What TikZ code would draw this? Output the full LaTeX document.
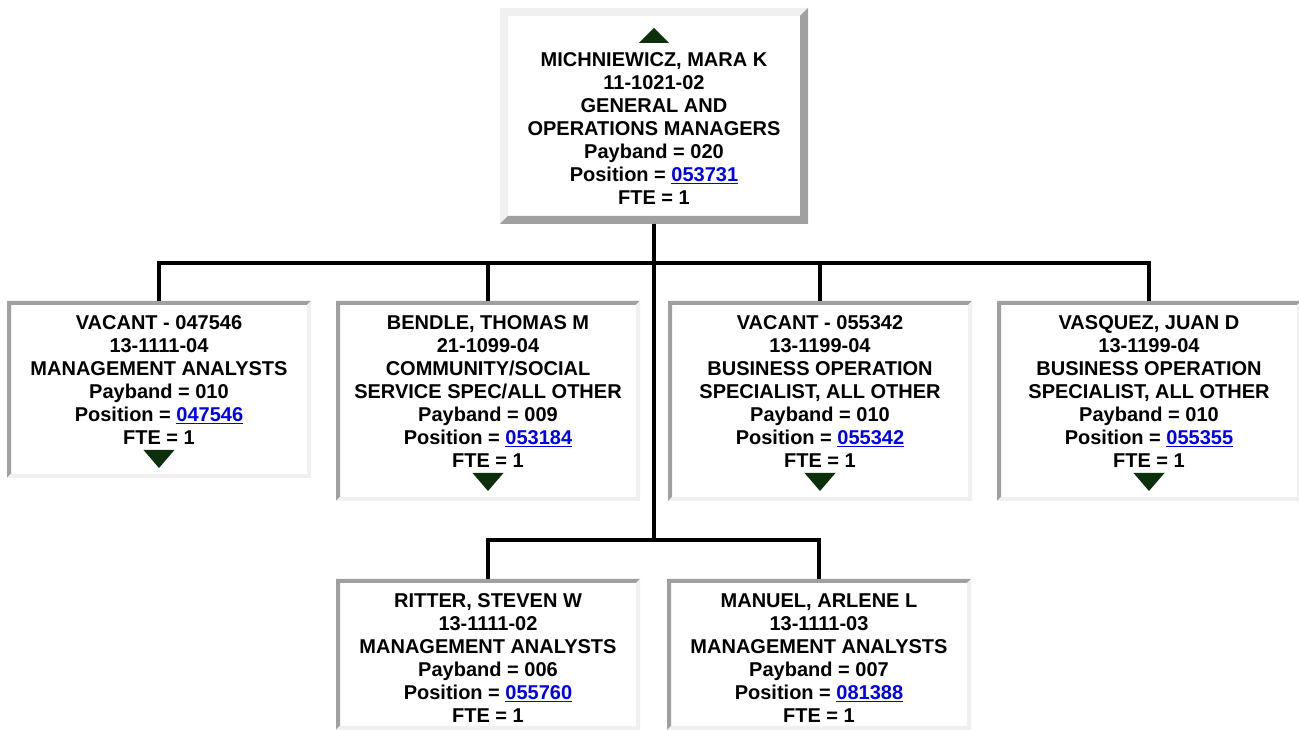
\documentclass[tikz,border=0pt]{standalone}
\usepackage{fontspec}
\setmainfont{Liberation Sans}

\definecolor{edgedark}{HTML}{A0A0A0}
\definecolor{edgelight}{HTML}{F0F0F0}
\definecolor{linkblue}{HTML}{0000EE}
\definecolor{treegreen}{HTML}{0B300B}

\newcommand{\poslink}[1]{\textcolor{linkblue}{\underline{#1}}}
\newcommand{\toprow}[1][22pt]{\rule{0pt}{#1}}

\tikzset{
    bevel/.style n args={3}{
        path picture={
            \fill[#2] (path picture bounding box.south west) -- (path picture bounding box.north west)
                -- (path picture bounding box.north east) -- ([xshift=-#1pt,yshift=-#1pt]path picture bounding box.north east)
                -- ([xshift=#1pt,yshift=-#1pt]path picture bounding box.north west) -- ([xshift=#1pt,yshift=#1pt]path picture bounding box.south west) -- cycle;
            \fill[#3] (path picture bounding box.south west) -- (path picture bounding box.south east)
                -- (path picture bounding box.north east) -- ([xshift=-#1pt,yshift=-#1pt]path picture bounding box.north east)
                -- ([xshift=-#1pt,yshift=#1pt]path picture bounding box.south east) -- ([xshift=#1pt,yshift=#1pt]path picture bounding box.south west) -- cycle;
        }
    },
    orgbox/.style={
        anchor=north, inner sep=0pt, outer sep=0pt,
        minimum width=304pt, align=center,
        font=\fontsize{20}{23}\selectfont\bfseries
    },
    sunkenbox/.style={orgbox, bevel={4}{edgedark}{edgelight}},
    raisedbox/.style={orgbox, minimum width=308pt, bevel={8}{edgelight}{edgedark}},
    wire/.style={line width=4pt},
    marker/.style={fill=treegreen}
}

\begin{document}
\begin{tikzpicture}[x=1pt, y=1pt]
    \fill[white] (0,0) rectangle (1299,730);
    \useasboundingbox (0,0) rectangle (1299,730);

    % Manager
    \node[raisedbox, minimum height=216pt] (gm) at (654,722)
        {\strut\\MICHNIEWICZ, MARA K\\11-1021-02\\GENERAL AND\\OPERATIONS MANAGERS\\Payband = 020\\Position = \poslink{053731}\\FTE = 1};

    % Direct reports
    \node[sunkenbox, minimum height=177pt] (vac1) at (159,429)
        {\toprow[18pt]VACANT - 047546\\13-1111-04\\MANAGEMENT ANALYSTS\\Payband = 010\\Position = \poslink{047546}\\FTE = 1\\\mbox{}};
    \node[sunkenbox, minimum height=200pt] (bendle) at (488,429)
        {\toprow[18pt]BENDLE, THOMAS M\\21-1099-04\\COMMUNITY/SOCIAL\\SERVICE SPEC/ALL OTHER\\Payband = 009\\Position = \poslink{053184}\\FTE = 1\\\mbox{}};
    \node[sunkenbox, minimum height=200pt] (vac2) at (820,429)
        {\toprow[18pt]VACANT - 055342\\13-1199-04\\BUSINESS OPERATION\\SPECIALIST, ALL OTHER\\Payband = 010\\Position = \poslink{055342}\\FTE = 1\\\mbox{}};
    \node[sunkenbox, minimum height=200pt] (vasquez) at (1149,429)
        {\toprow[18pt]VASQUEZ, JUAN D\\13-1199-04\\BUSINESS OPERATION\\SPECIALIST, ALL OTHER\\Payband = 010\\Position = \poslink{055355}\\FTE = 1\\\mbox{}};

    % Lower row
    \node[sunkenbox, minimum height=151pt] (ritter) at (488,151)
        {\toprow RITTER, STEVEN W\\13-1111-02\\MANAGEMENT ANALYSTS\\Payband = 006\\Position = \poslink{055760}\\FTE = 1};
    \node[sunkenbox, minimum height=151pt] (manuel) at (819,151)
        {\toprow MANUEL, ARLENE L\\13-1111-03\\MANAGEMENT ANALYSTS\\Payband = 007\\Position = \poslink{081388}\\FTE = 1};

    % Expand / collapse marks
    \fill[marker] ([xshift=-15pt,yshift=-35pt]gm.north) -- ([xshift=15pt,yshift=-35pt]gm.north) -- ([yshift=-20pt]gm.north) -- cycle;
    \foreach \b in {vac1,bendle,vac2,vasquez}
        \fill[marker] ([xshift=-15.5pt,yshift=28pt]\b.south) -- ([xshift=15.5pt,yshift=28pt]\b.south) -- ([yshift=10pt]\b.south) -- cycle;

    % Connectors
    \foreach \c in {vac1,bendle,vac2,vasquez}
        \draw[wire] (gm.south) -- ++(0,-39pt) -| (\c.north);
    \foreach \c in {ritter,manuel}
        \draw[wire] (gm.south) -- ++(0,-316pt) -| (\c.north);

\end{tikzpicture}
\end{document}
